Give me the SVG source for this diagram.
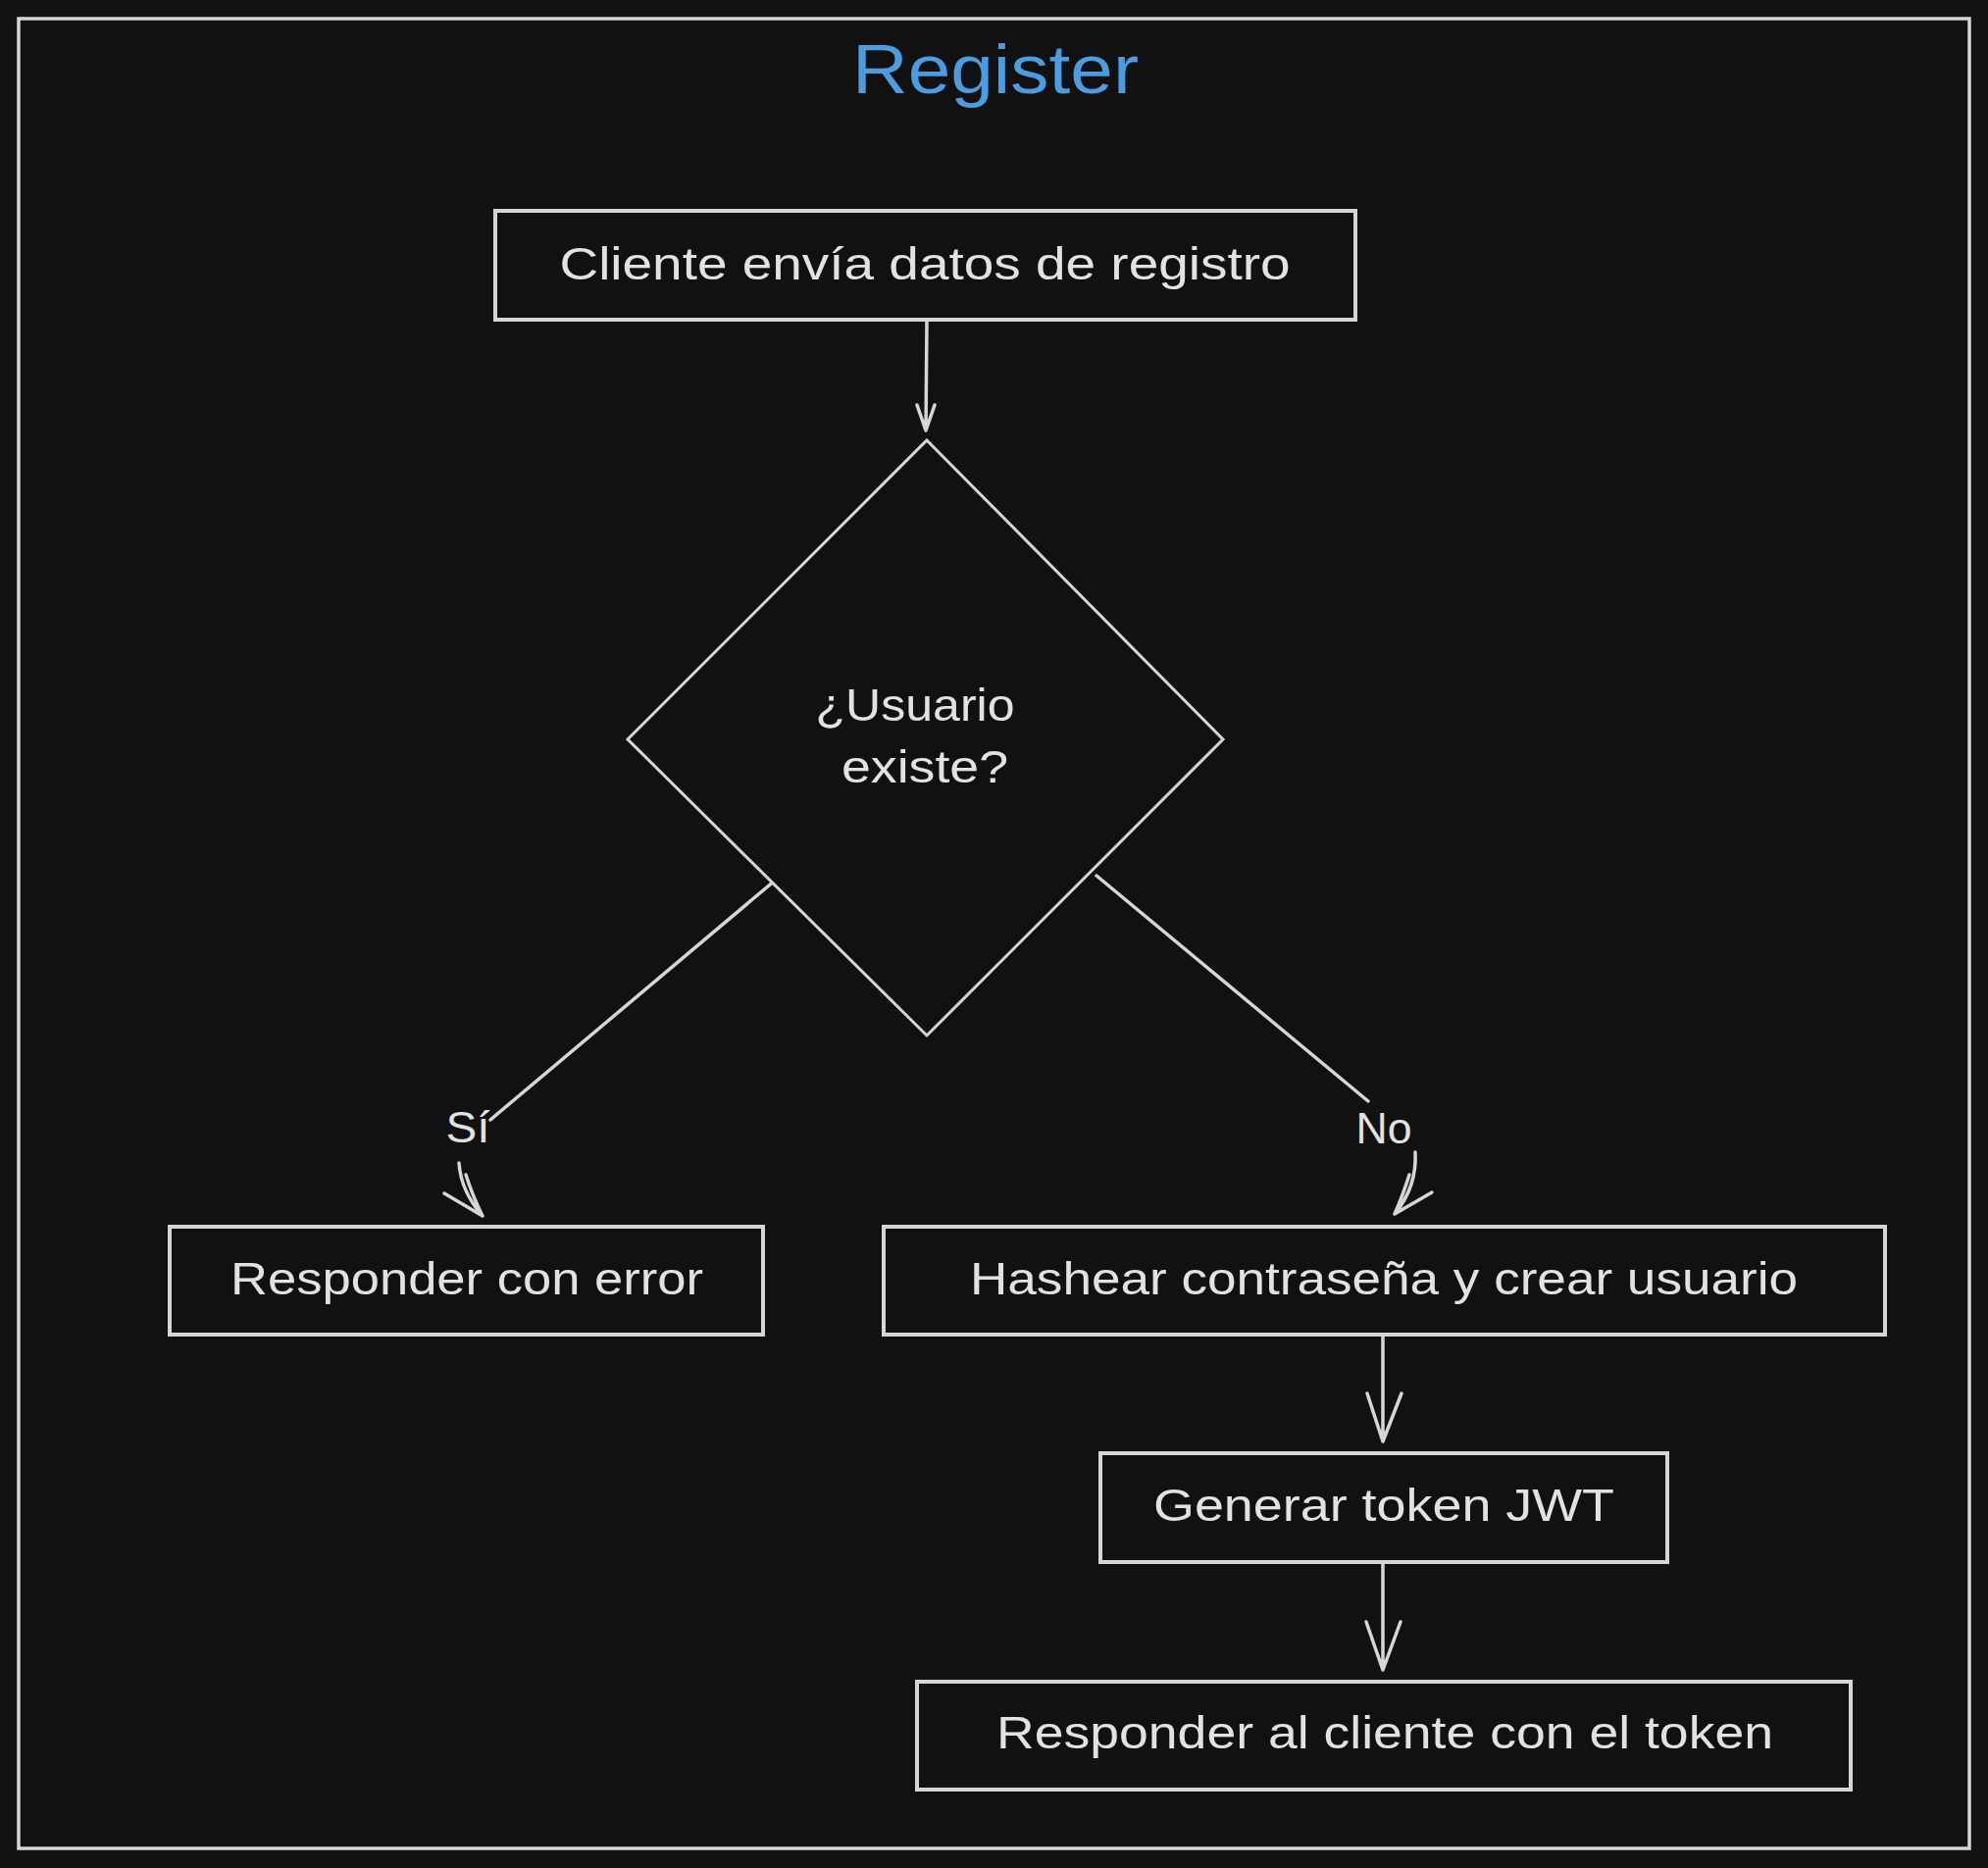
<svg xmlns="http://www.w3.org/2000/svg" width="2027" height="1905" viewBox="0 0 2027 1905">
<style>
.bg{fill:#111111}
.frame{fill:none;stroke:#d6d6d6;stroke-width:3.5}
.box{fill:#111111;stroke:#d6d6d6;stroke-width:4}
.dia{fill:#111111;stroke:#d6d6d6;stroke-width:3}
.con{fill:none;stroke:#d6d6d6;stroke-width:3.5;stroke-linecap:round;stroke-linejoin:round}
.txt{font-family:"Liberation Sans","DejaVu Sans",sans-serif;fill:#e2e2e2;text-anchor:middle}
.title{font-family:"Liberation Sans","DejaVu Sans",sans-serif;fill:#4a9de0;text-anchor:middle}
</style>
<rect class="bg" x="0" y="0" width="2027" height="1905"/>
<g id="frame">
<rect class="frame" x="19" y="19" width="1989" height="1866"/>
<text class="title" x="1015" y="95" font-size="70" textLength="292" lengthAdjust="spacingAndGlyphs">Register</text>
</g>
<g id="connectors">
<path class="con" d="M945,327 L944,439 M935,413 L944,439 L953,413"/>
<path class="con" d="M790,898 L500,1142 M786,901 L797,893"/>
<path class="con" d="M468,1186 Q470,1215 492,1240 M453,1217 L492,1240 M475,1198 Q482,1220 492,1240"/>
<path class="con" d="M1118,893 L1395,1123"/>
<path class="con" d="M1443,1175 Q1445,1210 1422,1238 M1460,1216 L1422,1238 M1437,1198 Q1430,1220 1422,1238"/>
<path class="con" d="M1410,1363 L1410,1470 M1394,1421 L1410,1470 L1429,1421"/>
<path class="con" d="M1410,1593 L1410,1703 M1393,1654 L1410,1703 L1428,1654"/>
<text class="txt" x="477" y="1165" font-size="44" textLength="45" lengthAdjust="spacingAndGlyphs">Sí</text>
<text class="txt" x="1411" y="1166" font-size="44" textLength="57" lengthAdjust="spacingAndGlyphs">No</text>
</g>
<g id="node-cliente">
<rect class="box" x="505" y="215" width="877" height="111"/>
<text class="txt" x="943" y="285" font-size="47" textLength="745" lengthAdjust="spacingAndGlyphs">Cliente envía datos de registro</text>
</g>
<g id="node-decision">
<polygon class="dia" points="945,449 1247,754 945,1056 640,754"/>
<text class="txt" x="933" y="735" font-size="47" textLength="203" lengthAdjust="spacingAndGlyphs">¿Usuario</text>
<text class="txt" x="943" y="798" font-size="47" textLength="170" lengthAdjust="spacingAndGlyphs">existe?</text>
</g>
<g id="node-error">
<rect class="box" x="173" y="1251" width="605" height="110"/>
<text class="txt" x="476" y="1320" font-size="47" textLength="482" lengthAdjust="spacingAndGlyphs">Responder con error</text>
</g>
<g id="node-hash">
<rect class="box" x="901" y="1251" width="1021" height="110"/>
<text class="txt" x="1411" y="1320" font-size="47" textLength="844" lengthAdjust="spacingAndGlyphs">Hashear contraseña y crear usuario</text>
</g>
<g id="node-jwt">
<rect class="box" x="1122" y="1482" width="578" height="111"/>
<text class="txt" x="1411" y="1551" font-size="47" textLength="470" lengthAdjust="spacingAndGlyphs">Generar token JWT</text>
</g>
<g id="node-respond">
<rect class="box" x="935" y="1715" width="952" height="110"/>
<text class="txt" x="1412" y="1783" font-size="47" textLength="792" lengthAdjust="spacingAndGlyphs">Responder al cliente con el token</text>
</g>
</svg>
